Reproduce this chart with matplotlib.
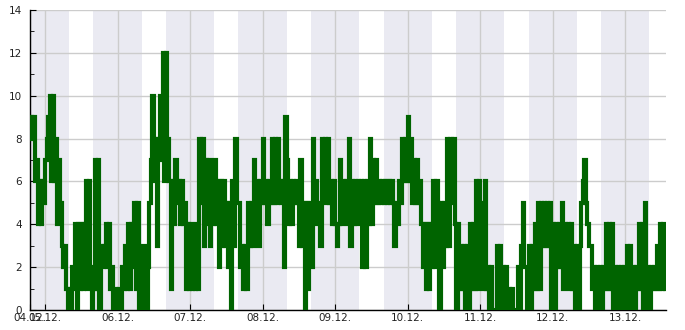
import numpy as np
import pandas as pd
import matplotlib
matplotlib.use('Agg')
import matplotlib.pyplot as plt
import matplotlib.dates as mdates
from matplotlib.ticker import MultipleLocator

# one reading every 30 minutes, first reading 04.12. 19:00
start = '2023-12-04 19:00'

day_04 = [9, 8, 9, 6, 7, 4, 6, 4, 6, 5]
day_05 = [7, 8, 9, 10, 6, 10, 6, 8, 4, 7, 5, 3, 2, 3, 1, 0, 1, 0, 2, 1,
          4, 0, 4, 1, 4, 1, 4, 6, 1, 6, 2, 0, 1, 7, 1, 7, 0, 3, 2, 3,
          4, 2, 4, 1, 2, 0, 1, 0]
day_06 = [0, 1, 0, 2, 1, 3, 1, 4, 1, 4, 2, 5, 1, 5, 0, 1, 0, 3, 1, 0,
          2, 5, 7, 10, 6, 8, 3, 8, 10, 7, 12, 6, 12, 8, 6, 1, 6, 4, 7, 5,
          6, 4, 6, 4, 5, 1, 4, 1]
day_07 = [4, 1, 3, 1, 4, 1, 8, 5, 8, 3, 7, 4, 7, 3, 6, 4, 7, 4, 6, 2,
          6, 3, 6, 3, 5, 2, 5, 0, 6, 3, 8, 5, 5, 2, 3, 1, 3, 1, 5, 3,
          5, 3, 7, 5, 6, 3, 6, 5]
day_08 = [8, 5, 6, 4, 6, 5, 8, 5, 8, 5, 8, 6, 5, 6, 2, 9, 7, 4, 6, 4,
          6, 5, 6, 5, 3, 7, 3, 5, 0, 5, 1, 5, 2, 8, 5, 6, 4, 5, 3, 8,
          6, 8, 5, 8, 5, 6, 4, 6]
day_09 = [4, 3, 4, 7, 4, 6, 5, 6, 4, 8, 3, 6, 4, 6, 4, 6, 5, 6, 2, 6,
          2, 6, 4, 8, 4, 7, 5, 7, 5, 6, 5, 6, 5, 6, 5, 6, 5, 6, 5, 3,
          5, 4, 6, 5, 8, 6, 8, 6]
day_10 = [9, 6, 8, 5, 7, 5, 7, 5, 6, 4, 2, 4, 1, 4, 1, 4, 2, 6, 2, 6,
          5, 0, 5, 2, 5, 3, 8, 3, 8, 5, 8, 4, 0, 4, 1, 3, 1, 3, 0, 3,
          0, 4, 1, 4, 1, 6, 1, 6]
day_11 = [3, 5, 1, 6, 1, 2, 0, 2, 0, 0, 0, 3, 0, 3, 0, 2, 0, 2, 0, 1,
          0, 1, 0, 0, 0, 2, 0, 3, 5, 2, 2, 0, 3, 0, 3, 1, 4, 1, 5, 1,
          5, 3, 5, 3, 5, 3, 5, 0]
day_12 = [4, 0, 4, 2, 4, 2, 5, 1, 4, 2, 4, 1, 4, 1, 3, 0, 3, 0, 3, 5,
          6, 7, 5, 4, 3, 3, 1, 2, 0, 2, 0, 2, 0, 2, 1, 4, 1, 4, 1, 4,
          0, 2, 0, 2, 0, 2, 0, 2]
day_13 = [0, 3, 0, 3, 0, 2, 0, 2, 1, 4, 1, 4, 0, 5, 0, 2, 0, 2, 1, 2,
          1, 3, 1, 4, 1, 4, 1, 4]

values = day_04 + day_05 + day_06 + day_07 + day_08 + day_09 + day_10 + day_11 + day_12 + day_13
times = pd.date_range(start, periods=len(values), freq='30min')

# working hours are left white, the rest of the day is shaded
work_start = 8
work_end = 16

fig = plt.figure(figsize=(6.85, 3.3), dpi=100)
ax = fig.add_axes([0.0438, 0.0606, 0.9285, 0.9091])

for d in pd.date_range('2023-12-04', '2023-12-13', freq='D'):
    ax.axvspan(d + pd.Timedelta(hours=work_end), d + pd.Timedelta(hours=24 + work_start),
               color='#eaeaf2', lw=0, zorder=0)

ax.plot(times, values, drawstyle='steps-post', color='#006400', lw=3, zorder=3,
        solid_joinstyle='miter', solid_capstyle='butt')

ax.set_xlim(times[0], times[-1])
ax.set_ylim(0, 14)

ticks = [times[0]] + list(pd.date_range('2023-12-05', '2023-12-13', freq='D'))
ax.set_xticks(ticks)
ax.xaxis.set_major_formatter(mdates.DateFormatter('%d.%m.'))
ax.yaxis.set_major_locator(MultipleLocator(2))
ax.yaxis.set_minor_locator(MultipleLocator(1))

ax.set_axisbelow(True)
ax.grid(True, which='major', color='#cccccc', lw=1)

for side in ['top', 'right']:
    ax.spines[side].set_visible(False)
for side in ['left', 'bottom']:
    ax.spines[side].set_color('black')
    ax.spines[side].set_linewidth(1)

ax.tick_params(axis='both', which='both', direction='in', labelsize=7.5,
               labelcolor='#222222', color='black')
ax.tick_params(axis='y', which='major', length=4, pad=6)
ax.tick_params(axis='y', which='minor', length=3)
ax.tick_params(axis='x', which='major', length=4, pad=2)

fig.savefig('out.png', dpi=100)
